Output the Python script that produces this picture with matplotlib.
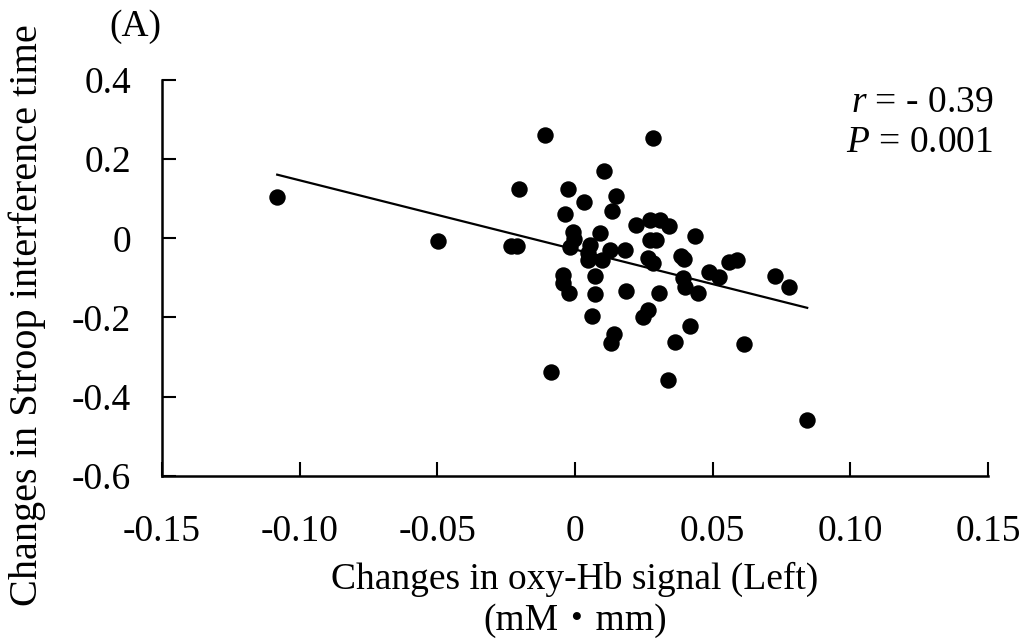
import numpy as np
import matplotlib
matplotlib.use('Agg')
import matplotlib.pyplot as plt

# values
oxy_hb = [-0.1081, -0.0498, -0.0231, -0.0210, -0.0202, -0.0108, 0.0283, 0.0105,
          -0.0024, 0.0034, 0.0149, 0.0134, -0.0035, 0.0223, 0.0271, 0.0307,
          0.0343, 0.0437, -0.0006, -0.0003, -0.0018, 0.0090, 0.0054, 0.0048,
          0.0048, 0.0097, 0.0127, 0.0181, 0.0271, 0.0293, 0.0265, 0.0283,
          0.0386, 0.0395, 0.0486, 0.0522, 0.0558, 0.0590, 0.0392, 0.0401,
          0.0446, -0.0042, -0.0042, -0.0022, 0.0072, 0.0072, 0.0187, 0.0305,
          0.0060, 0.0265, 0.0247, 0.0416, 0.0142, 0.0130, 0.0362, -0.0087,
          0.0337, 0.0612, 0.0727, 0.0777, 0.0843]
stroop = [0.1034, -0.0068, -0.0194, -0.0194, 0.1243, 0.2620, 0.2520, 0.1700,
          0.1240, 0.0910, 0.1070, 0.0690, 0.0605, 0.0328, 0.0460, 0.0460,
          0.0310, 0.0058, 0.0150, -0.0025, -0.0210, 0.0126, -0.0170, -0.0380,
          -0.0550, -0.0550, -0.0295, -0.0295, -0.0043, -0.0043, -0.0504, -0.0630,
          -0.0460, -0.0530, -0.0858, -0.0984, -0.0590, -0.0547, -0.1009, -0.1220,
          -0.1387, -0.0926, -0.1135, -0.1387, -0.0951, -0.1412, -0.1329, -0.1387,
          -0.1960, -0.1810, -0.1990, -0.2204, -0.2414, -0.2633, -0.2623, -0.3364,
          -0.3590, -0.2673, -0.0943, -0.1236, -0.4583]

x_ticks = [-0.15, -0.10, -0.05, 0, 0.05, 0.10, 0.15]
x_tick_labels = ['-0.15', '-0.10', '-0.05', '0', '0.05', '0.10', '0.15']
y_ticks = [0.4, 0.2, 0, -0.2, -0.4, -0.6]
y_tick_labels = ['0.4', '0.2', '0', '-0.2', '-0.4', '-0.6']

plt.rcParams['font.family'] = ['Liberation Serif', 'Noto Sans CJK JP', 'DejaVu Serif']
plt.rcParams['mathtext.fontset'] = 'custom'
plt.rcParams['mathtext.rm'] = 'Liberation Serif'
plt.rcParams['mathtext.it'] = 'Liberation Serif:italic'

fig = plt.figure(figsize=(10.24, 6.44), dpi=100)
ax = fig.add_axes([0.158, 0.261, 0.807, 0.615])

x = np.array(oxy_hb)
y = np.array(stroop)
ax.scatter(x, y, s=140, color='black', zorder=3, linewidths=0)

# least squares line over the data range
slope, icept = np.polyfit(x, y, 1)
xl = np.array([x.min(), x.max()])
ax.plot(xl, slope * xl + icept, color='black', lw=1.6, zorder=2)

ax.set_xlim(-0.15, 0.15)
ax.set_ylim(-0.6, 0.4)
ax.set_xticks(x_ticks)
ax.set_xticklabels(x_tick_labels)
ax.set_yticks(y_ticks)
ax.set_yticklabels(y_tick_labels)
ax.tick_params(direction='in', length=10, width=1.5, labelsize=27)
ax.tick_params(axis='x', pad=28)
ax.tick_params(axis='y', pad=22)
for side in ['top', 'right']:
    ax.spines[side].set_visible(False)
for side in ['left', 'bottom']:
    ax.spines[side].set_linewidth(1.8)

ax.set_xlabel('Changes in oxy-Hb signal (Left)\n(mM\u30fbmm)', fontsize=27,
              linespacing=1.22, labelpad=9)
fig.text(0.027, 0.51, 'Changes in Stroop interference time', fontsize=29,
         rotation=90, ha='center', va='center')

fig.text(0.132, 0.958, '(A)', fontsize=27, ha='center', va='center')
ax.text(1.006, 0.942, r'$\it{r}$ = - 0.39', transform=ax.transAxes,
        fontsize=27, ha='right', va='center')
ax.text(1.006, 0.84, r'$\it{P}$ = 0.001', transform=ax.transAxes,
        fontsize=27, ha='right', va='center')

fig.savefig('out.png', dpi=100)
